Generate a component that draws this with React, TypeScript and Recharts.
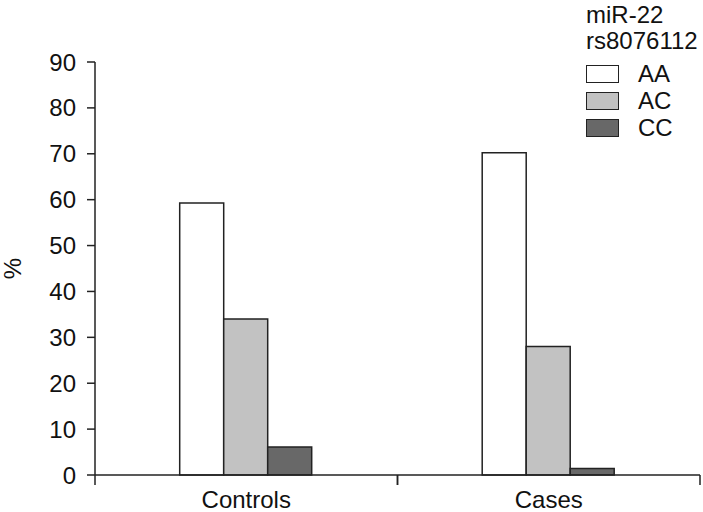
import { BarChart, Bar, XAxis, YAxis } from "recharts";

const GROUPS = ["Controls", "Cases"];
const AA = [59.3, 70.2];
const AC = [34.0, 28.0];
const CC = [6.1, 1.4];
const Y_TICKS = [0, 10, 20, 30, 40, 50, 60, 70, 80, 90];

const SERIES = [
  { key: "AA", fill: "#ffffff" },
  { key: "AC", fill: "#c2c2c2" },
  { key: "CC", fill: "#686868" },
];

const FONT = "'Liberation Sans', Arial, sans-serif";
const FONT_SIZE = 24;
const WIDTH = 703;
const HEIGHT = 512;
const PLOT_LEFT = 95;
const PLOT_RIGHT = 3;
const BAND = (WIDTH - PLOT_LEFT - PLOT_RIGHT) / GROUPS.length;

const data = GROUPS.map((g, i) => ({ group: g, AA: AA[i], AC: AC[i], CC: CC[i] }));

function GroupTick(props: any) {
  const { x, y, payload } = props;
  const left = x - BAND / 2;
  const right = x + BAND / 2;
  return (
    <g>
      <line x1={left} y1={y} x2={left} y2={y + 10} stroke="#222" strokeWidth={1.5} />
      <line x1={right} y1={y} x2={right} y2={y + 10} stroke="#222" strokeWidth={1.5} />
      <text x={x} y={y + 24} textAnchor="middle" dominantBaseline="central" fontSize={FONT_SIZE} fill="#111" fontFamily={FONT}>
        {payload.value}
      </text>
    </g>
  );
}

function LegendBox() {
  return (
    <div
      style={{
        position: "absolute",
        top: 0,
        left: 586,
        fontFamily: FONT,
        fontSize: FONT_SIZE,
        color: "#111",
        lineHeight: "26px",
      }}
    >
      <div style={{ marginTop: 2 }}>miR-22</div>
      <div>rs8076112</div>
      <div style={{ marginTop: 6 }}>
        {SERIES.map((s) => (
          <div key={s.key} style={{ display: "flex", alignItems: "center", height: 27 }}>
            <div
              style={{
                width: 31,
                height: 16,
                background: s.fill,
                border: "1.5px solid #222",
                marginRight: 19,
              }}
            />
            <span>{s.key}</span>
          </div>
        ))}
      </div>
    </div>
  );
}

export default function App() {
  return (
    <div style={{ position: "absolute", left: 0, top: 0, width: WIDTH, height: HEIGHT, background: "#fff" }}>
      <BarChart
        width={WIDTH}
        height={HEIGHT}
        data={data}
        margin={{ top: 62, right: PLOT_RIGHT, bottom: 0, left: 0 }}
        barCategoryGap="28%"
        barGap={0}
      >
        <XAxis
          dataKey="group"
          height={37}
          tickLine={false}
          tickSize={0}
          tickMargin={0}
          tick={<GroupTick />}
          axisLine={{ stroke: "#222", strokeWidth: 1.5 }}
          interval={0}
        />
        <YAxis
          width={PLOT_LEFT}
          domain={[0, 90]}
          ticks={Y_TICKS}
          interval={0}
          tickSize={8}
          tickMargin={11}
          axisLine={{ stroke: "#222", strokeWidth: 1.5 }}
          tickLine={{ stroke: "#222", strokeWidth: 1.5 }}
          tick={{ fontSize: FONT_SIZE, fill: "#111", fontFamily: FONT }}
          label={{
            value: "%",
            angle: -90,
            position: "center",
            dx: -35,
            style: { fontSize: FONT_SIZE, fill: "#111", fontFamily: FONT },
          }}
        />
        {SERIES.map((s) => (
          <Bar
            key={s.key}
            dataKey={s.key}
            fill={s.fill}
            stroke="#222"
            strokeWidth={1.5}
            isAnimationActive={false}
          />
        ))}
      </BarChart>
      <LegendBox />
    </div>
  );
}
